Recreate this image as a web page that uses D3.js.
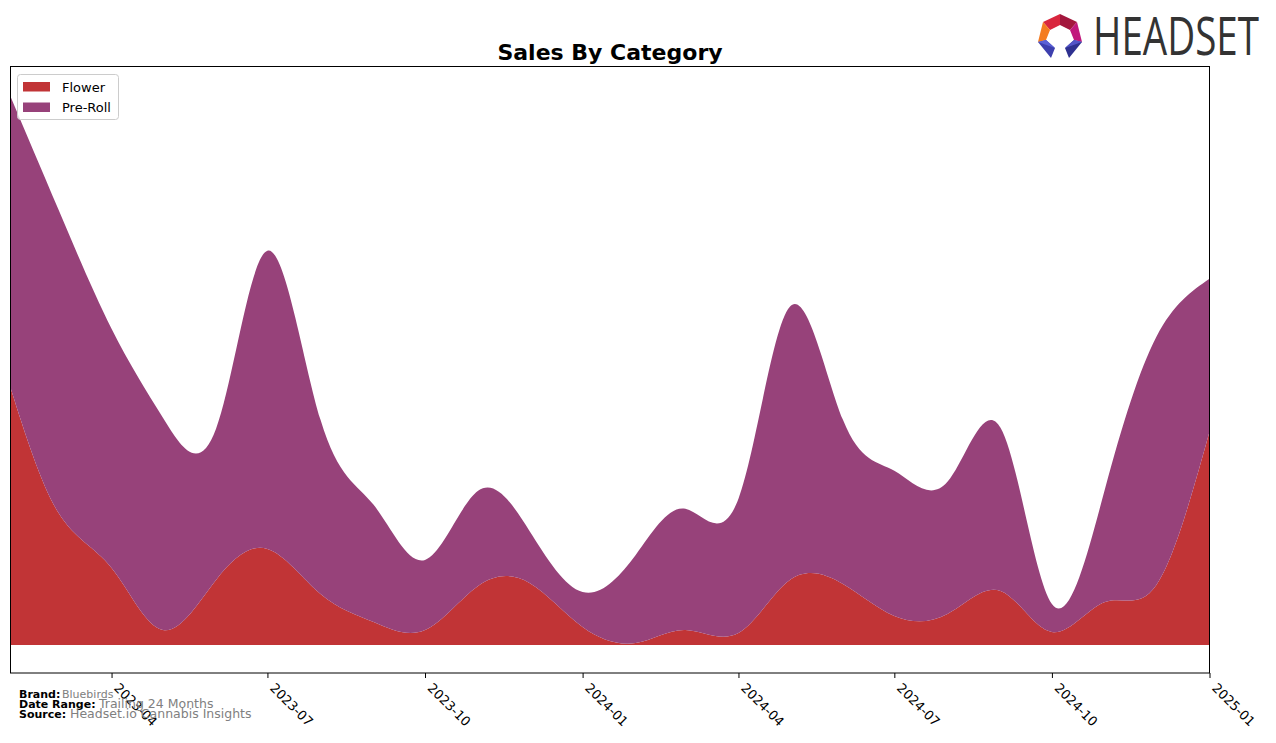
<!DOCTYPE html>
<html><head><meta charset="utf-8">
<script src="https://cdn.jsdelivr.net/npm/d3@7"></script>
<style>body{margin:0;background:#fff}svg{display:block}text{font-family:"DejaVu Sans",sans-serif}</style>
</head><body>
<svg id="chart" width="1276" height="743"></svg>
<script>
// ---- data ----
const months = ["2023-02","2023-03","2023-04","2023-05","2023-06","2023-07","2023-08","2023-09","2023-10","2023-11","2023-12",
  "2024-01","2024-02","2024-03","2024-04","2024-05","2024-06","2024-07","2024-08","2024-09","2024-10","2024-11","2024-12","2025-01"];
const categories = ["Flower","Pre-Roll"];
const flowerSales = [25700,13200,7700,1500,6500,9600,5100,2300,1500,5900,6200,1800,200,1500,1200,6500,6100,2900,3100,5400,1300,4300,6000,21300];
const prerollSales = [29100,30300,23900,21200,15100,29800,17400,11700,7000,9500,5200,3500,8800,12100,13400,27300,16400,14500,13200,16300,2800,11300,24800,15300];
const tickLabels = ["2023-04","2023-07","2023-10","2024-01","2024-04","2024-07","2024-10","2025-01"];
const colors = {"Flower":"#c13436","Pre-Roll":"#97427a"};

const parse = d3.timeParse("%Y-%m");
const rows = months.map((m,i)=>({date:parse(m),"Flower":flowerSales[i],"Pre-Roll":prerollSales[i]}));

const svg = d3.select("#chart");
const L=10.5, R=1209.5, T=66.5, B=673;
const x = d3.scaleTime().domain([parse("2023-02"), parse("2025-01")]).range([L,R]);
const y = d3.scaleLinear().domain([-2800, 57800]).range([B,T]);

const stack = d3.stack().keys(categories)(rows);
const area = d3.area().curve(d3.curveNatural)
  .x(d=>x(d.data.date)).y0(d=>y(d[0])).y1(d=>y(d[1]));

svg.append("defs").append("clipPath").attr("id","clip")
  .append("rect").attr("x",L).attr("y",T).attr("width",R-L).attr("height",B-T);

svg.append("g").attr("clip-path","url(#clip)").selectAll("path").data(stack).join("path")
  .attr("d",area).attr("fill",d=>colors[d.key]);

// frame
svg.append("rect").attr("x",L).attr("y",T).attr("width",R-L).attr("height",B-T)
  .attr("fill","none").attr("stroke","#000").attr("stroke-width",1);

// x axis
const ax = svg.append("g").attr("transform",`translate(0,${B})`)
  .call(d3.axisBottom(x).tickValues(tickLabels.map(parse)).tickFormat(d3.timeFormat("%Y-%m")).tickSizeOuter(0).tickSize(5));
ax.select(".domain").remove();
ax.selectAll("line").attr("stroke","#000");
ax.selectAll("text").attr("font-size",13).attr("fill","#000")
  .attr("text-anchor","start").attr("dominant-baseline","hanging")
  .attr("y",0).attr("dy",0)
  .attr("transform","translate(8,9) rotate(45)");

// title
svg.append("text").attr("x",(L+R)/2).attr("y",60).attr("text-anchor","middle")
  .attr("font-size",22).attr("font-weight","bold").text("Sales By Category");

// legend
const lg = svg.append("g");
lg.append("rect").attr("x",17.5).attr("y",74.5).attr("width",101).attr("height",45).attr("rx",3)
  .attr("fill","#fff").attr("fill-opacity",0.8).attr("stroke","#ccc");
categories.forEach((c,i)=>{
  lg.append("rect").attr("x",23).attr("y",82+i*20.5).attr("width",27).attr("height",9.5).attr("fill",colors[c]);
  lg.append("text").attr("x",62).attr("y",91.5+i*20.5).attr("font-size",13).text(c);
});

// footer
const foot = [["Brand:","Bluebirds",698,62,11],["Date Range:","Trailing 24 Months",708,99,12.5],["Source:","Headset.io Cannabis Insights",718,70,12.5]];
foot.forEach(f=>{
  svg.append("text").attr("x",19).attr("y",f[2]).attr("font-size",11).attr("font-weight","bold").text(f[0]);
  svg.append("text").attr("x",f[3]).attr("y",f[2]).attr("font-size",f[4]).attr("fill","#808080").text(f[1]);
});

// logo
const lgo = svg.append("g");
const polys = [
  [[[1060,14],[1043,22],[1050,30],[1060,25]],"#d9263e"],
  [[[1060,14],[1077,22],[1070,30],[1060,25]],"#a3173d"],
  [[[1043,22],[1038,42],[1046,40],[1050,30]],"#f47c20"],
  [[[1077,22],[1082,42],[1074,40],[1070,30]],"#c1187c"],
  [[[1038,42],[1046,40],[1055,48],[1051,58]],"#3d3fae"],
  [[[1082,42],[1074,40],[1065,48],[1069,58]],"#2e3190"],
  [[[1038,42],[1055,48],[1046,40]],"#5b60d6"],
  [[[1082,42],[1065,48],[1074,40]],"#5254c8"]
];
polys.forEach(p=>lgo.append("polygon").attr("points",p[0].map(q=>q.join(",")).join(" ")).attr("fill",p[1]));
lgo.append("g").attr("transform","translate(1093,55) scale(1,1.38)")
  .append("text").attr("x",0).attr("y",0).attr("font-size",38).attr("fill","#333")
  .attr("textLength",166).attr("lengthAdjust","spacingAndGlyphs").style("font-family","'Open Sans',sans-serif").text("HEADSET");
</script>
</body></html>
